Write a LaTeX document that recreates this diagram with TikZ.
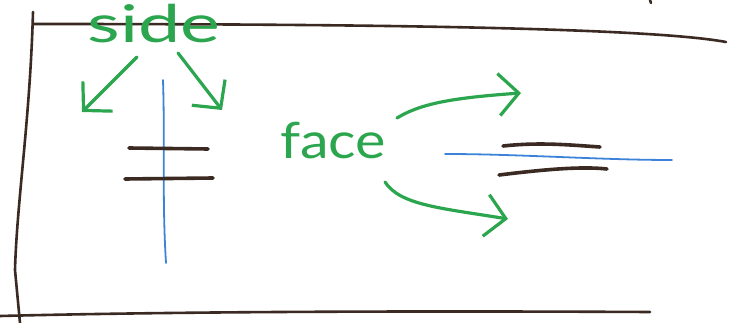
\documentclass[tikz,border=0pt]{standalone}
\usepackage{fontspec}
\setmainfont{Lato}
\usetikzlibrary{arrows.meta}
\definecolor{pengreen}{HTML}{2BA64E}
\definecolor{penblue}{HTML}{3C82D8}
\definecolor{penbrown}{HTML}{3A2A22}
\tikzset{
  frameline/.style={penbrown, line width=2.6pt, line cap=round},
  plate/.style={penbrown, line width=3.6pt, line cap=round},
  axis/.style={penblue, line width=1.8pt, line cap=round},
  greenarrow/.style={pengreen, line width=3.2pt, line cap=round, line join=round,
    -{Straight Barb[length=20pt, width=42pt, line width=3.2pt]}},
  label/.style={pengreen, inner sep=0pt}
}
\begin{document}
\begin{tikzpicture}[x=1pt, y=-1pt]
\useasboundingbox (0,0) rectangle (738,323);
% frame
\coordinate (tl) at (33,24);
\coordinate (tr) at (726,42);
\draw[frameline] (33,12) .. controls (30,120) and (17,200) .. (15,270) -- (20,323);
\draw[frameline] (tl) .. controls (300,24) and (640,26) .. (tr);
\draw[frameline] (0,316) .. controls (200,311) and (450,311) .. (650,312);
\draw[frameline] (650,0) -- (651,3);
% left: side view
\node[label, font=\fontsize{52}{52}\selectfont, xscale=1.45] (side) at (154,24) {side};
\coordinate (sl) at (137,57);
\coordinate (slt) at (82,112);
\coordinate (sr) at (178,53);
\coordinate (srt) at (222,110);
\draw[greenarrow] (sl) -- (slt);
\draw[greenarrow] (sr) -- (srt);
\coordinate (vtop) at (163,80);
\coordinate (vbot) at (166,263);
\draw[axis] (vtop) .. controls (165,140) and (162,200) .. (vbot);
\coordinate (p1a) at (129,148);
\coordinate (p1b) at (208,149);
\coordinate (p2a) at (125,179);
\coordinate (p2b) at (213,178);
\draw[plate] (p1a) -- (p1b);
\draw[plate] (p2a) -- (p2b);
% right: face view
\node[label, font=\fontsize{50}{50}\selectfont, xscale=1.15] (face) at (333,141) {face};
\coordinate (fu0) at (397,118);
\coordinate (fu1) at (521,93);
\coordinate (fd0) at (385,182);
\coordinate (fd1) at (508,219);
\draw[greenarrow] (fu0) .. controls (420,104) and (450,98) .. (fu1);
\draw[greenarrow] (fd0) .. controls (400,205) and (440,208) .. (fd1);
\coordinate (hl) at (445,154);
\coordinate (hr) at (672,160);
\draw[axis] (hl) .. controls (520,154) and (600,160) .. (hr);
\coordinate (q1a) at (503,146);
\coordinate (q1b) at (600,147);
\coordinate (q2a) at (499,175);
\coordinate (q2b) at (607,169);
\draw[plate] (q1a) .. controls (540,142) and (570,145) .. (q1b);
\draw[plate] (q2a) .. controls (540,170) and (580,166) .. (q2b);
\end{tikzpicture}
\end{document}
